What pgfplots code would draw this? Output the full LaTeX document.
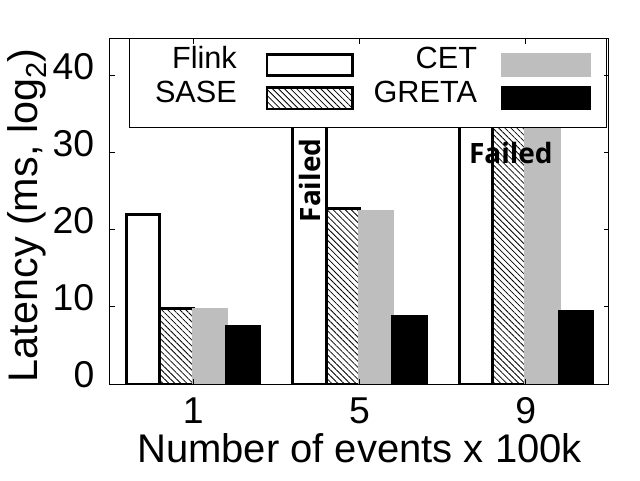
\documentclass[border=0pt]{standalone}
\usepackage{fontspec}
\setmainfont{Liberation Sans}
\newfontfamily\failfont{Open Sans}
\usepackage{pgfplots}
\pgfplotsset{compat=1.18}
\usetikzlibrary{patterns.meta}
\definecolor{cetgray}{RGB}{190,190,190}
\pgfplotsset{
 legA/.style={legend image code/.code={\path (0pt,0pt) (100.35pt,0pt); \draw[##1,line width=2pt] (21.4pt,-4.9pt) rectangle (85.5pt,10.9pt);}},
 legB/.style={legend image code/.code={\path (0pt,0pt) (83.25pt,0pt); \draw[##1,line width=2pt] (18pt,-4.9pt) rectangle (83.25pt,10.9pt);}},
}
\begin{document}
\begin{tikzpicture}
\useasboundingbox (-82.5pt,-72pt) rectangle (397.5pt,288pt);
\begin{axis}[
 at={(0pt,0pt)}, anchor=south west,
 scale only axis, width=374.25pt, height=259pt,
 xmin=-0.5, xmax=2.5, ymin=0, ymax=44.8,
 ybar=0pt, bar width=0.2,
 xtick={0,1,2}, xticklabels={1,5,9},
 ytick={0,10,20,30,40},
 /pgf/number format/assume math mode=true,
 tick pos=both, tick align=inside, major tick length=3.75pt,
 tick style={black, line width=0.75pt},
 axis line style={line width=0.75pt},
 axis on top,
 ticklabel style={font=\fontsize{28}{32}\selectfont, inner sep=0pt},
 yticklabel style={anchor=base east, xshift=-11.6pt, yshift=-2.8pt},
 xticklabel style={anchor=base, yshift=-29.5pt},
 xlabel={Number of events x 100k},
 ylabel={Latency (ms, log\textsubscript{2})},
 xlabel style={font=\fontsize{30}{34}\selectfont, at={(axis description cs:0.5,-0.2268)}, anchor=base},
 ylabel style={font=\fontsize{31}{35}\selectfont, at={(axis description cs:-0.1449,0.489)}, anchor=base},
 legend columns=2, transpose legend, legend plot pos=right,
 legend style={at={(axis description cs:0.96393,0.97712)}, anchor=north east, draw=none, fill=none, inner sep=0pt, outer sep=0pt, column sep=0pt, row sep=3.2pt, font=\fontsize{23}{27}\selectfont, nodes={inner sep=0pt, outer sep=0pt}, cells={anchor=base east}},
]
\addplot[fill=white, draw=black, line width=2.25pt, legA] coordinates {(0,22.0) (1,36) (2,36)};
\addlegendentry{Flink}
\addplot[pattern={Lines[angle=-45,distance=3.2pt,line width=0.6pt]}, pattern color=black, draw=black, line width=2.25pt, legA] coordinates {(0,9.84) (1,22.83) (2,36)};
\addlegendentry{SASE}
\addplot[fill=cetgray, draw=cetgray, line width=2.25pt, legB] coordinates {(0,9.64) (1,22.4) (2,36)};
\addlegendentry{CET}
\addplot[fill=black, draw=black, line width=2.25pt, legB] coordinates {(0,7.43) (1,8.77) (2,9.42)};
\addlegendentry{GRETA}
\draw[fill=white, line width=0.75pt] (axis description cs:0.0387,0.7428) rectangle (axis description cs:0.9954,1);
\node[font=\failfont\bfseries\fontsize{21}{25}\selectfont, rotate=90] at (axis cs:0.7,26.4) {Failed};
\node[font=\failfont\bfseries\fontsize{21}{25}\selectfont] at (axis cs:1.91,30) {Failed};
\end{axis}
\end{tikzpicture}
\end{document}
